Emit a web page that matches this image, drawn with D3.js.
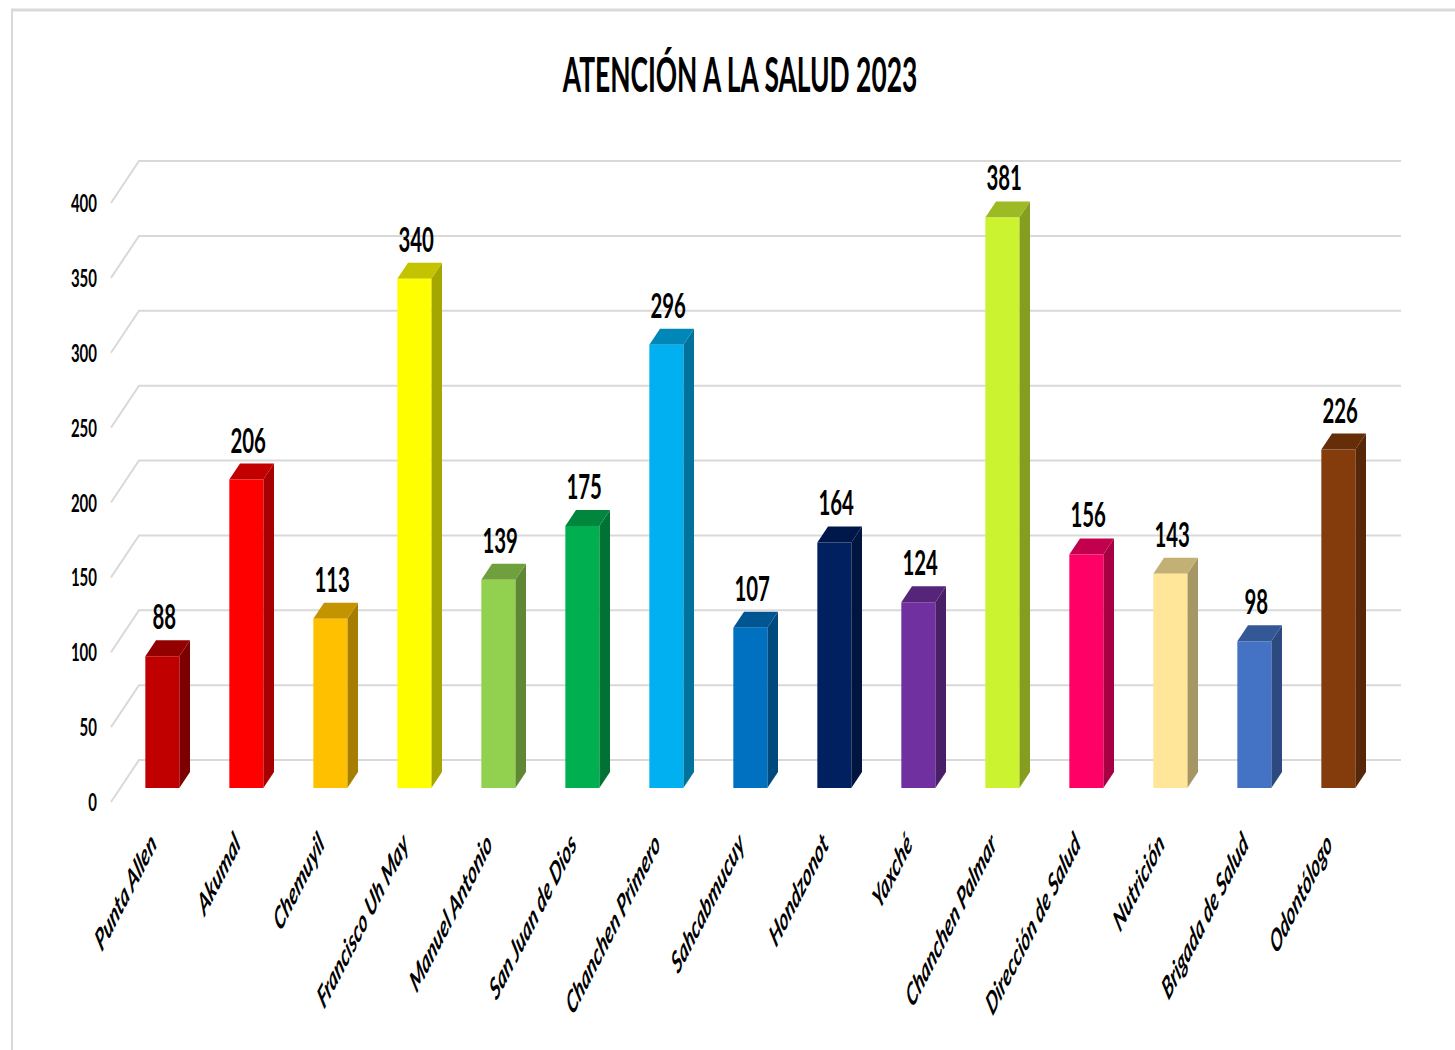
<!DOCTYPE html>
<html>
<head>
<meta charset="utf-8">
<script src="https://cdn.jsdelivr.net/npm/d3@7"></script>
<style>
  html, body { margin: 0; padding: 0; background: #fff; }
  svg { display: block; }
  text { font-family: Lato, "Open Sans", sans-serif; fill: #000; }
</style>
</head>
<body>
<svg id="chart" width="1455" height="1050"></svg>
<script>
// Atención a la salud 2023 — attendances per locality / service
const categories = [
  "Punta Allen", "Akumal", "Chemuyil", "Francisco Uh May", "Manuel Antonio",
  "San Juan de Dios", "Chanchen Primero", "Sahcabmucuy", "Hondzonot", "Yaxché",
  "Chanchen Palmar", "Dirección de Salud", "Nutrición", "Brigada de Salud", "Odontólogo"
];
const values = [88, 206, 113, 340, 139, 175, 296, 107, 164, 124, 381, 156, 143, 98, 226];
const barColors = [
  "#C00000", "#FF0000", "#FFC000", "#FFFF00", "#92D050",
  "#00B050", "#00B0F0", "#0070C0", "#002060", "#7030A0",
  "#CCF32F", "#FF0066", "#FFE699", "#4472C4", "#843C0C"
];
const yTicks = [0, 50, 100, 150, 200, 250, 300, 350, 400];
const title = "ATENCIÓN A LA SALUD 2023";

const svg = d3.select("#chart");
const SX = 0.6;               // horizontal squeeze for numbers
const SX_TITLE = 0.55;        // squeeze for the title
const SX_CAT = 0.52;          // squeeze for the slanted category names

// back wall geometry
const x = d3.scaleBand().domain(categories).range([139, 1399])
  .paddingInner(50 / 84).paddingOuter(25 / 84);
const y = d3.scaleLinear().domain([0, 400]).range([760, 161]);
// depth vector from back wall to front edge of the floor
const DX = -28, DY = 42;
const pt = (xw, v, d) => [xw + DX * d, y(v) + DY * d];
const dBack = 2 / 7, dFront = 2 / 3;

// outer frame
svg.append("line").attr("x1", 11).attr("x2", 1455).attr("y1", 10).attr("y2", 10)
  .attr("stroke", "#d9d9d9").attr("stroke-width", 3);
svg.append("line").attr("x1", 12).attr("x2", 12).attr("y1", 10).attr("y2", 1050)
  .attr("stroke", "#d9d9d9").attr("stroke-width", 2);

// title
svg.append("text")
  .attr("transform", `translate(740,92) scale(${SX_TITLE},1)`)
  .attr("text-anchor", "middle")
  .style("font-size", "48px").style("font-weight", 700)
  .text(title);

// gridlines: back wall + floor diagonal
const grid = svg.append("g").attr("stroke", "#d9d9d9").attr("stroke-width", 2).attr("fill", "none");
yTicks.forEach(t => {
  const [fx, fy] = pt(139, t, 1);
  grid.append("path").attr("d", `M${fx},${fy}L139,${y(t)}L1401,${y(t)}`);
});

// y tick labels
svg.append("g").selectAll("text").data(yTicks).join("text")
  .attr("transform", t => `translate(97,${y(t) + DY + 9}) scale(${SX},1)`)
  .attr("text-anchor", "end")
  .style("font-size", "25px").style("font-weight", 700)
  .text(d => d);

// 3D bars
const bars = svg.append("g");
categories.forEach((c, i) => {
  const v = values[i];
  const x0 = x(c), x1 = x0 + x.bandwidth();
  const col = d3.color(barColors[i]);
  const fTL = pt(x0, v, dFront), fTR = pt(x1, v, dFront);
  const fBL = pt(x0, 0, dFront), fBR = pt(x1, 0, dFront);
  const bTL = pt(x0, v, dBack), bTR = pt(x1, v, dBack), bBR = pt(x1, 0, dBack);
  const poly = p => "M" + p.map(q => q.join(",")).join("L") + "Z";
  // side face
  bars.append("path").attr("d", poly([fTR, bTR, bBR, fBR]))
    .attr("fill", col.darker(1.2).formatHex());
  // top face
  bars.append("path").attr("d", poly([fTL, bTL, bTR, fTR]))
    .attr("fill", col.darker(0.75).formatHex());
  // front face
  bars.append("path").attr("d", poly([fTL, fTR, fBR, fBL]))
    .attr("fill", col.formatHex());
});

// value labels
svg.append("g").selectAll("text").data(categories).join("text")
  .attr("transform", (c, i) => {
    const [lx] = pt(x(c) + x.bandwidth() / 2, 0, 0.6);
    return `translate(${lx},${y(values[i]) + 1}) scale(${SX},1)`;
  })
  .attr("text-anchor", "middle")
  .style("font-size", "34px").style("font-weight", 700)
  .text((c, i) => values[i]);

// category labels
svg.append("g").selectAll("text").data(categories).join("text")
  .attr("transform", c => {
    const [cx] = pt(x(c) + x.bandwidth() / 2, 0, dFront);
    return `translate(${cx - 5},846) scale(${SX_CAT},1) rotate(-45)`;
  })
  .attr("text-anchor", "end")
  .style("font-size", "31px").style("font-weight", 700).style("font-style", "italic")
  .text(c => c);
</script>
</body>
</html>
